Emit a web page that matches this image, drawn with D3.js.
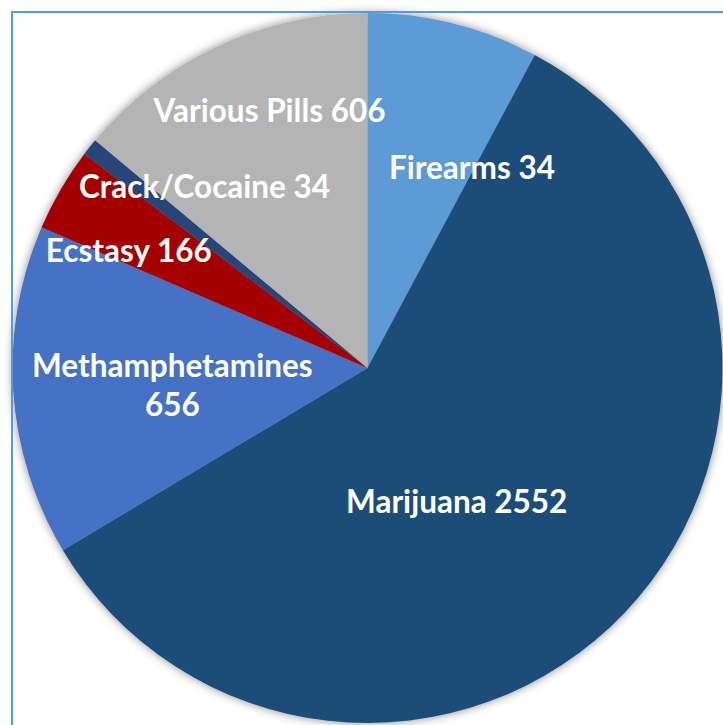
<!DOCTYPE html>
<html>
<head>
<meta charset="utf-8">
<script src="https://cdn.jsdelivr.net/npm/d3@7"></script>
<style>
  html, body { margin: 0; padding: 0; background: #fff; overflow: hidden; }
  svg { display: block; }
</style>
</head>
<body>
<svg id="chart" width="723" height="725"></svg>
<script>
// slice sizes as drawn (the Firearms label reads 34 but its wedge is drawn as ~340)
var categories = ["Firearms", "Marijuana", "Methamphetamines", "Ecstasy", "Crack/Cocaine", "Various Pills"]
var sliceValues = [340, 2552, 656, 166, 34, 606]
var labelValues = [34, 2552, 656, 166, 34, 606]
var colors = ["#5b9bd5", "#1f4e79", "#4472c4", "#a50000", "#264478", "#b4b4b4"]

// where excel dropped each label: shift from the slice mid angle (deg) and radius as share of R
var labelAt = [
  {shift: 13.5, r: 0.636},
  {shift: 12.7, r: 0.453},
  {shift: -1.2, r: 0.552},
  {shift: -4.1, r: 0.749},
  {shift: 9.5, r: 0.686},
  {shift: 4.25, r: 0.777}
]

var width = 723, height = 725
var cx = 367.5, cy = 368, R = 355

var svg = d3.select("#chart")

// soft shadow round the pie
var defs = svg.append("defs")
var f = defs.append("filter").attr("id", "pie-shadow")
  .attr("x", "-10%").attr("y", "-10%").attr("width", "120%").attr("height", "120%")
f.append("feDropShadow")
  .attr("dx", 0).attr("dy", 0)
  .attr("stdDeviation", 5)
  .attr("flood-color", "#000")
  .attr("flood-opacity", 0.45)

var pie = d3.pie().sort(null).value(function(d){ return d })
var arcs = pie(sliceValues)

var arc = d3.arc().innerRadius(0).outerRadius(R)

var g = svg.append("g").attr("transform", "translate(" + cx + "," + cy + ")")

g.append("g").attr("filter", "url(#pie-shadow)")
  .selectAll("path")
  .data(arcs)
  .enter().append("path")
  .attr("d", arc)
  .attr("fill", function(d, i){ return colors[i] })

// plot area frame, right and bottom edges run off the page
svg.append("rect")
  .attr("x", 12).attr("y", 12)
  .attr("width", width).attr("height", height)
  .attr("fill", "none")
  .attr("stroke", "#5b9bd5")
  .attr("stroke-width", 2)

var labels = g.append("g")
  .attr("font-family", "Lato, 'Open Sans', sans-serif")
  .attr("font-weight", "bold")
  .attr("font-size", 31.5)
  .attr("fill", "#fff")
  .attr("text-anchor", "middle")

arcs.forEach(function(d, i){
  var mid = (d.startAngle + d.endAngle) / 2 + labelAt[i].shift * Math.PI / 180
  var r = labelAt[i].r * R
  var x = Math.sin(mid) * r
  var y = -Math.cos(mid) * r
  var t = labels.append("text").attr("x", x).attr("y", y)
  if (categories[i] == "Methamphetamines") {
    // too wide for one line, excel wraps it
    t.append("tspan").attr("x", x).attr("dy", "-0.26em").text(categories[i])
    t.append("tspan").attr("x", x).attr("dy", "1.24em").text(labelValues[i])
  } else {
    t.attr("dy", "0.36em").text(categories[i] + " " + labelValues[i])
  }
})
</script>
</body>
</html>
